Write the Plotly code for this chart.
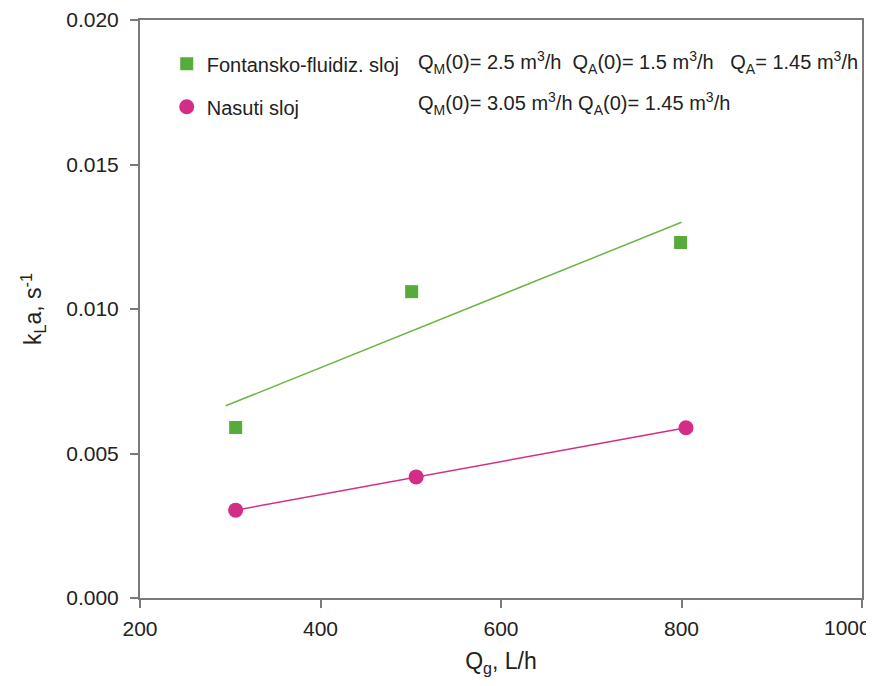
import plotly.graph_objects as go

# measured points
fontansko_x = [306, 501, 799]
fontansko_y = [0.0059, 0.0106, 0.0123]
nasuti_x = [306, 506, 805]
nasuti_y = [0.00304, 0.00419, 0.00589]

# trend line (end points)
fit_x = [295, 800]
fit_y = [0.00665, 0.01300]

x_ticks = [200, 400, 600, 800, 1000]
y_ticks = [0, 0.005, 0.010, 0.015, 0.020]

green = "#56ab3a"
pink = "#d42d85"
axis_col = "#7a7a7a"
font = "Liberation Sans, Arial, sans-serif"

fig = go.Figure()
fig.add_trace(go.Scatter(
    x=fit_x, y=fit_y, mode="lines", line=dict(color="#6cb644", width=1.5),
    showlegend=False, hoverinfo="skip"))
fig.add_trace(go.Scatter(
    x=nasuti_x, y=nasuti_y, mode="lines", line=dict(color=pink, width=1.5),
    showlegend=False, hoverinfo="skip"))
fig.add_trace(go.Scatter(
    x=fontansko_x, y=fontansko_y, mode="markers", name="Fontansko-fluidiz. sloj",
    legendgroup="a",
    marker=dict(symbol="square", size=13, color=green, line=dict(width=0))))
fig.add_trace(go.Scatter(
    x=nasuti_x, y=nasuti_y, mode="markers", name="Nasuti sloj",
    legendgroup="b",
    marker=dict(symbol="circle", size=15, color=pink, line=dict(width=0))))

ann_font = dict(family=font, size=20, color="#222")
fig.add_annotation(
    xref="paper", yref="paper", x=0.382, y=0.926, xanchor="left", yanchor="middle",
    text="Q<sub>M</sub>(0)= 2.5 m<sup>3</sup>/h  Q<sub>A</sub>(0)= 1.5 m<sup>3</sup>/h   "
         "Q<sub>A</sub>= 1.45 m<sup>3</sup>/h",
    showarrow=False, font=ann_font)
fig.add_annotation(
    xref="paper", yref="paper", x=0.382, y=0.855, xanchor="left", yanchor="middle",
    text="Q<sub>M</sub>(0)= 3.05 m<sup>3</sup>/h Q<sub>A</sub>(0)= 1.45 m<sup>3</sup>/h",
    showarrow=False, font=ann_font)

# last x label sits flush with the right edge, so it is drawn as an annotation
fig.add_annotation(
    xref="x", yref="paper", x=x_ticks[-1], y=0, xanchor="right", yanchor="top",
    xshift=11, yshift=-16, text=str(x_ticks[-1]), showarrow=False,
    font=dict(family=font, size=21, color="#222"))

axis_common = dict(
    showline=True, linecolor=axis_col, linewidth=2, mirror=True,
    ticks="outside", tickcolor=axis_col, ticklen=8, tickwidth=1.5,
    showgrid=False, zeroline=False, automargin=False, ticklabeloverflow="allow",
    tickfont=dict(family=font, size=21, color="#222"),
)

fig.update_xaxes(
    range=[200, 1000], tickvals=x_ticks,
    ticktext=[str(v) for v in x_ticks[:-1]] + [""], ticklabelstandoff=3,
    title=dict(text="Q<sub>g</sub>, L/h", font=dict(family=font, size=23, color="#222"), standoff=14),
    **axis_common)
fig.update_yaxes(
    range=[0, 0.020], tickvals=y_ticks, tickformat=".3f",
    ticklabelstandoff=7,
    title=dict(text="k<sub>L</sub>a, s<sup>-1</sup>", font=dict(family=font, size=23, color="#222"), standoff=18),
    **axis_common)

# page body has an 8px margin, so the margins are shifted to compensate
fig.update_layout(
    width=874, height=686,
    margin=dict(l=132, r=20, t=12, b=96),
    plot_bgcolor="white", paper_bgcolor="white",
    font=dict(family=font, color="#222"),
    legend=dict(
        x=0.037, y=0.958, xanchor="left", yanchor="top",
        bgcolor="rgba(0,0,0,0)", font=dict(family=font, size=20, color="#222"),
        traceorder="grouped", tracegroupgap=14, itemwidth=30,
    ),
)

fig.write_html("out.html")
